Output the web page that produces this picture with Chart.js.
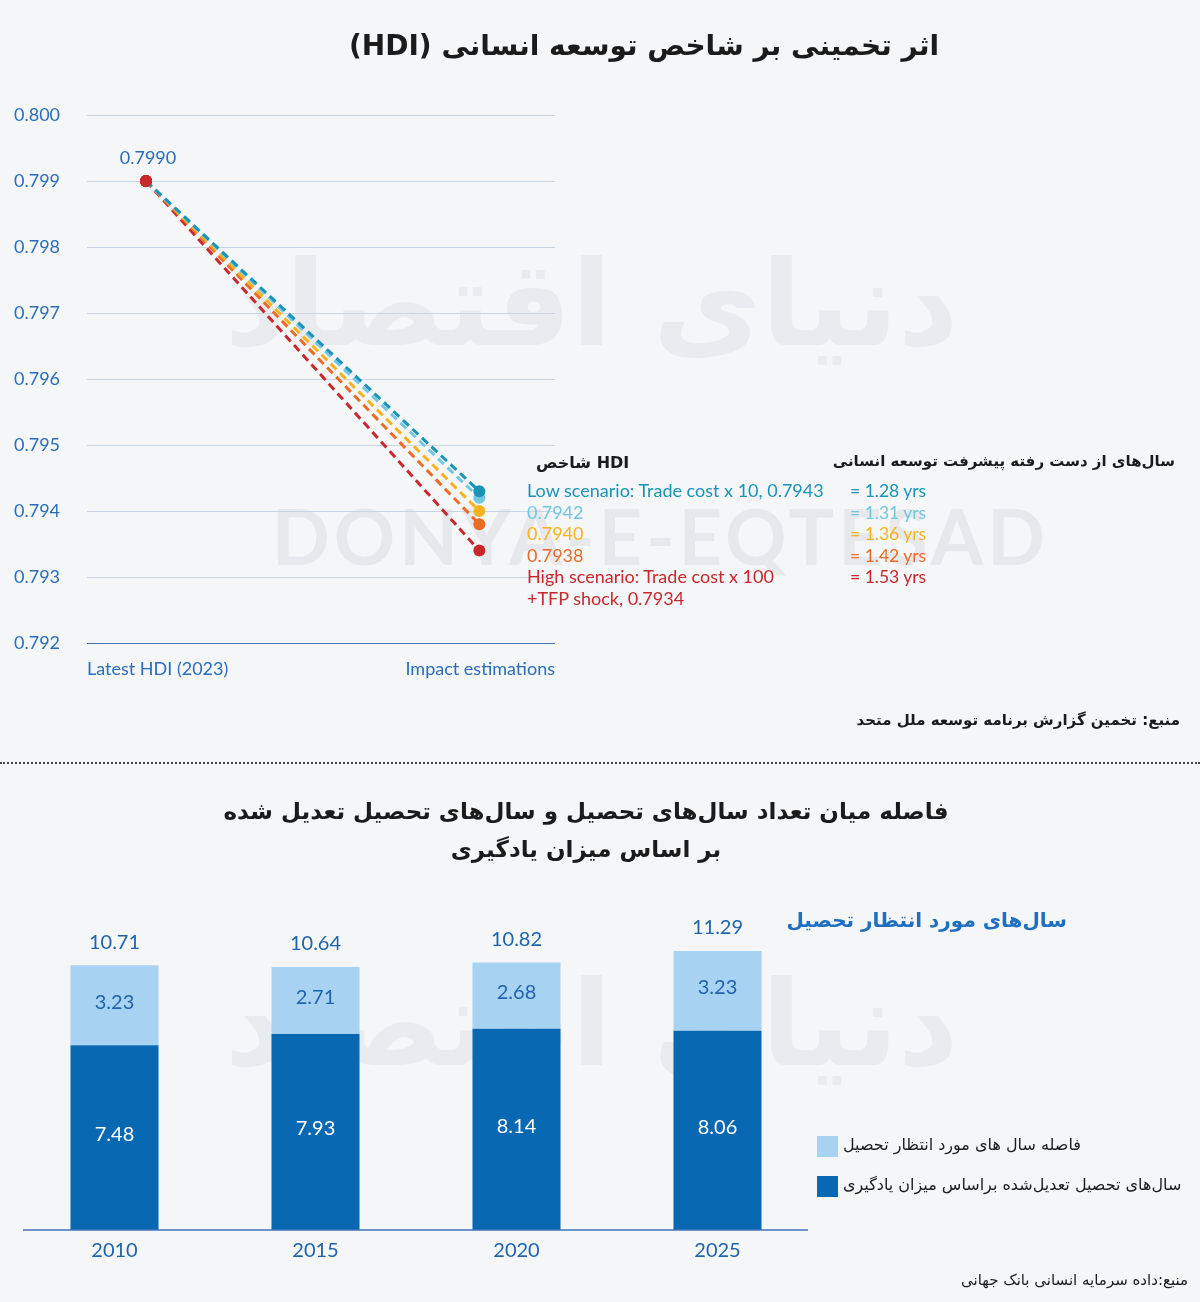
<!DOCTYPE html>
<html>
<head>
<meta charset="utf-8">
<script src="https://cdn.jsdelivr.net/npm/chart.js@4"></script>
<style>
  body { margin: 0; background: #f4f6f8; }
  #page { position: relative; width: 1200px; height: 1302px; overflow: hidden; background: #f4f6f8; font-family: Lato, "DejaVu Sans", sans-serif; }
  .abs { position: absolute; white-space: nowrap; }
  .fa { font-family: "DejaVu Sans", sans-serif; direction: rtl; }
  .wm { color: #e6e8eb; font-weight: bold; }
  #topWrap { position: absolute; left: 0; top: 0; width: 1200px; height: 720px; }
  #botWrap { position: absolute; left: 0; top: 765px; width: 1200px; height: 537px; }
  #sep { position: absolute; left: 0; top: 762px; width: 1200px; border-top: 2px dotted #444; }
  .sw { position: absolute; width: 21px; height: 21px; }
</style>
</head>
<body>
<div id="page">
  <!-- watermarks -->
  <div class="abs wm" style="left:272px; top:490px; font-size:76px; font-family:Lato; letter-spacing:4px;">DONYA-E-EQTESAD</div>
  <div class="abs wm fa" style="left:225px; top:235px; font-size:118px; color:#e9ebee;">دنیای اقتصاد</div>
  <div class="abs wm fa" style="left:225px; top:955px; font-size:118px; color:#e9ebee;">دنیای اقتصاد</div>

  <div id="topWrap"><canvas id="hdiChart"></canvas></div>
  <div id="botWrap"><canvas id="eduChart"></canvas></div>

  <div class="abs fa" style="left:0; width:1288px; text-align:center; top:29px; font-size:28px; font-weight:bold; color:#1b1b1b;">اثر تخمینی بر شاخص توسعه انسانی (HDI)</div>
  <div class="abs fa" style="right:20px; top:711px; font-size:15px; font-weight:bold; color:#1b1b1b;">منبع: تخمین گزارش برنامه توسعه ملل متحد</div>
  <div id="sep"></div>
  <div class="abs fa" style="left:0; width:1172px; text-align:center; top:792px; font-size:23px; font-weight:bold; color:#1b1b1b; line-height:38px;">فاصله میان تعداد سال‌های تحصیل و سال‌های تحصیل تعدیل شده<br>بر اساس میزان یادگیری</div>
  <div class="abs fa" style="right:133px; top:908px; font-size:20px; font-weight:bold; color:#1f6fc0;">سال‌های مورد انتظار تحصیل</div>
  <div class="abs fa" style="right:12px; top:1271px; font-size:15px; color:#1b1b1b;">منبع:داده سرمایه انسانی بانک جهانی</div>
  <div id="legendTop"></div>
  <div id="legendBot"></div>
</div>

<script>
// --- top chart data ---
var hdiStart = 0.7990;
var hdiScenarios = [0.7943, 0.7942, 0.7940, 0.7938, 0.7934];
var yearsLost = [1.28, 1.31, 1.36, 1.42, 1.53];
var scenarioNames = ["Low scenario: Trade cost x 10, ", "", "", "", "High scenario: Trade cost x 100\n+TFP shock, "];
var scenarioColors = ['#1a93b8', '#72c7e2', '#f7b21e', '#ee6b26', '#c8282c'];
var hdiCategories = ["Latest HDI (2023)", "Impact estimations"];
var hdiTicks = [0.792, 0.793, 0.794, 0.795, 0.796, 0.797, 0.798, 0.799, 0.800];

// --- bottom chart data ---
var years = ["2010", "2015", "2020", "2025"];
var adjustedYears = [7.48, 7.93, 8.14, 8.06];
var gapYears = [3.23, 2.71, 2.68, 3.23];
var eduLabels = ["سال‌های تحصیل تعدیل‌شده براساس میزان یادگیری", "فاصله سال های مورد انتظار تحصیل"];
var eduColors = ['#0868b1', '#a7d2f2'];

Chart.defaults.font.family = "Lato, 'DejaVu Sans', sans-serif";
Chart.defaults.animation = false;

// legend text for the top chart
var lt = document.getElementById('legendTop');
var html = '<div class="abs" style="left:536px; top:453px; font-size:16px; font-weight:bold; color:#1b1b1b; font-family:\'DejaVu Sans\';">شاخص HDI</div>';
html += '<div class="abs fa" style="right:25px; top:452px; font-size:15px; font-weight:bold; color:#1b1b1b;">سال‌های از دست رفته پیشرفت توسعه انسانی</div>';
var rowY = 480;
for (var i = 0; i < hdiScenarios.length; i++) {
    var txt = (scenarioNames[i] + hdiScenarios[i].toFixed(4)).replace('\n', '<br>');
    html += '<div class="abs" style="left:527px; top:' + rowY + 'px; font-size:18px; line-height:21.6px; color:' + scenarioColors[i] + ';">' + txt + '</div>';
    html += '<div class="abs" style="left:850px; top:' + rowY + 'px; font-size:17.5px; line-height:21.6px; color:' + scenarioColors[i] + ';">= ' + yearsLost[i].toFixed(2) + ' yrs</div>';
    rowY += 21.6;
}
lt.innerHTML = html;

// legend for the bottom chart
var lb = document.getElementById('legendBot');
var lh = '';
var order = [1, 0];
for (var k = 0; k < order.length; k++) {
    var j = order[k];
    var rowTop = 1136 + k * 40;
    lh += '<div class="sw" style="left:817px; top:' + rowTop + 'px; background:' + eduColors[j] + ';"></div>';
    lh += '<div class="abs fa" style="left:843px; top:' + (rowTop - 1) + 'px; font-size:16px; color:#1b1b1b;">' + eduLabels[j] + '</div>';
}
lb.innerHTML = lh;

// ---------- top line chart ----------
var xMin = -0.177, xMax = 1.227;
var lineSets = [];
for (var i = hdiScenarios.length - 1; i >= 0; i--) {
    lineSets.push({
        data: [{x: 0, y: hdiStart}, {x: 1, y: hdiScenarios[i]}],
        borderColor: scenarioColors[i],
        backgroundColor: [scenarioColors[hdiScenarios.length - 1], scenarioColors[i]],
        borderWidth: 3,
        borderDash: [8, 5],
        pointRadius: 6,
        pointBorderWidth: 0,
        order: i
    });
}

var startLabel = {
    id: 'startLabel',
    afterDatasetsDraw: function(chart) {
        var c = chart.ctx;
        var px = chart.scales.x.getPixelForValue(0);
        var py = chart.scales.y.getPixelForValue(hdiStart);
        c.save();
        c.font = "18px Lato";
        c.fillStyle = '#2a6ebb';
        c.textAlign = 'center';
        c.textBaseline = 'middle';
        c.fillText(hdiStart.toFixed(4), px + 2, py - 23);
        c.restore();
    }
};

new Chart(document.getElementById('hdiChart'), {
    type: 'line',
    data: { datasets: lineSets },
    options: {
        responsive: true,
        maintainAspectRatio: false,
        layout: { padding: { left: 14, right: 645, top: 115, bottom: 0 } },
        plugins: { legend: { display: false }, tooltip: { enabled: false } },
        scales: {
            x: {
                type: 'linear', min: xMin, max: xMax,
                grid: { display: false },
                border: { display: false },
                afterBuildTicks: function(s) { s.ticks = [{value: xMin}, {value: xMax}]; },
                afterFit: function(s) { s.height = 77; },
                ticks: {
                    align: 'inner', padding: 7, color: '#2a6ebb', font: { size: 18 },
                    callback: function(v, idx) { return hdiCategories[idx]; }
                }
            },
            y: {
                min: hdiTicks[0], max: hdiTicks[hdiTicks.length - 1],
                afterBuildTicks: function(s) { s.ticks = hdiTicks.map(function(v) { return {value: v}; }); },
                afterFit: function(s) { s.width = 73; },
                border: { display: false },
                grid: {
                    drawTicks: false, lineWidth: 1,
                    color: function(ctx) { return Math.abs(ctx.tick.value - hdiTicks[0]) < 1e-7 ? '#3f73b8' : '#c8d5e5'; }
                },
                ticks: {
                    crossAlign: 'far', color: '#2a6ebb', font: { size: 18 },
                    callback: function(v) { return Number(v).toFixed(3); }
                }
            }
        }
    },
    plugins: [startLabel]
});

// ---------- bottom stacked bars ----------
var barLabels = {
    id: 'barLabels',
    afterDatasetsDraw: function(chart) {
        var c = chart.ctx;
        var m0 = chart.getDatasetMeta(0), m1 = chart.getDatasetMeta(1);
        c.save();
        c.font = "20px Lato";
        c.textAlign = 'center';
        c.textBaseline = 'middle';
        for (var i = 0; i < years.length; i++) {
            var b0 = m0.data[i], b1 = m1.data[i];
            c.fillStyle = '#ffffff';
            c.fillText(adjustedYears[i].toFixed(2), b0.x, (b0.y + b0.base) / 2 - 3);
            c.fillStyle = '#1e64ad';
            c.fillText(gapYears[i].toFixed(2), b1.x, (b1.y + b1.base) / 2 - 3);
            c.fillText((adjustedYears[i] + gapYears[i]).toFixed(2), b1.x, b1.y - 23);
        }
        // base line
        var yb = chart.scales.y.getPixelForValue(0);
        c.strokeStyle = '#3f73b8';
        c.lineWidth = 1.5;
        c.beginPath();
        c.moveTo(23, yb);
        c.lineTo(808, yb);
        c.stroke();
        c.restore();
    }
};

new Chart(document.getElementById('eduChart'), {
    type: 'bar',
    data: {
        labels: years,
        datasets: [
            { label: eduLabels[0], data: adjustedYears, backgroundColor: eduColors[0] },
            { label: eduLabels[1], data: gapYears, backgroundColor: eduColors[1] }
        ]
    },
    options: {
        responsive: true,
        maintainAspectRatio: false,
        layout: { padding: { left: 14, right: 382, top: 119, bottom: 0 } },
        datasets: { bar: { categoryPercentage: 1, barPercentage: 0.438 } },
        plugins: { legend: { display: false }, tooltip: { enabled: false } },
        scales: {
            x: {
                stacked: true,
                grid: { display: false },
                border: { display: false },
                afterFit: function(s) { s.height = 72; },
                ticks: { padding: 1, color: '#1e64ad', font: { size: 20 } }
            },
            y: { stacked: true, display: false, min: 0, max: 14 }
        }
    },
    plugins: [barLabels]
});
</script>
</body>
</html>
